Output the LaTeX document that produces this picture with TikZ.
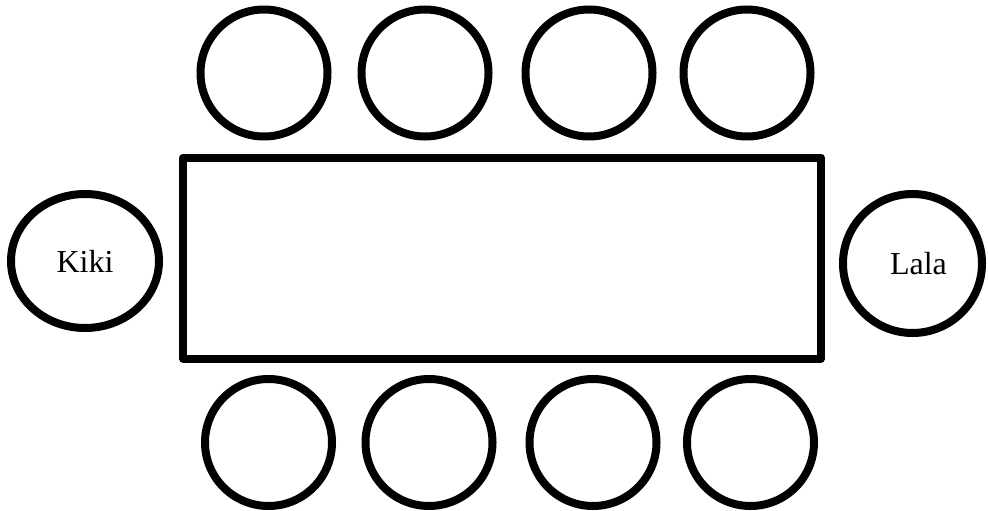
\documentclass[tikz,border=0pt]{standalone}
\usepackage{fontspec}
\setmainfont{Liberation Serif}
\usetikzlibrary{shapes.geometric}

\tikzset{
  seat/.style={draw=black, line width=8pt, circle, minimum size=127pt, inner sep=0pt},
  endseat/.style={draw=black, line width=8pt, ellipse, inner sep=0pt, font=\fontsize{32}{38}\selectfont},
  tabletop/.style={draw=black, line width=8pt, line join=round}
}

\begin{document}
\begin{tikzpicture}[x=1pt,y=-1pt]
      \useasboundingbox (0,0) rectangle (988,511);
      % table
      \draw [tabletop] (183,157.5) rectangle (821,358.5);
      % chairs on the top side
      \node [seat] (top1) at (264,73) {};
      \node [seat] (top2) at (425,73) {};
      \node [seat] (top3) at (589,73) {};
      \node [seat] (top4) at (747,73) {};
      % chairs on the bottom side
      \node [seat] (bot1) at (268.5,442.5) {};
      \node [seat] (bot2) at (429,442.5) {};
      \node [seat] (bot3) at (593,442.5) {};
      \node [seat] (bot4) at (750.5,442.5) {};
      % the two ends
      \node [endseat, minimum width=148pt, minimum height=134pt] (kiki) at (85,261) {Kiki};
      \node [endseat, minimum width=139pt, minimum height=139pt] (lala) at (912.5,263.5) {};
      \node [font=\fontsize{32}{38}\selectfont, inner sep=0pt] (lalaname) at ([xshift=6pt]lala.center) {Lala};
    \end{tikzpicture}
\end{document}
